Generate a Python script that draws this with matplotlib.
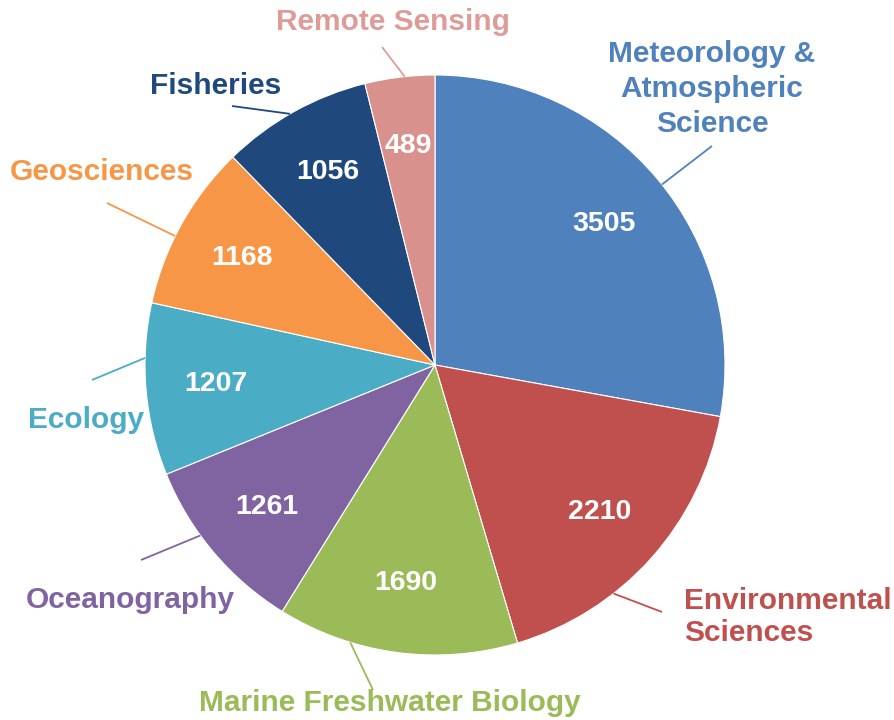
import matplotlib
matplotlib.use("Agg")
import matplotlib.pyplot as plt
import numpy as np

# ---- data ----
categories = ["Meteorology &\nAtmospheric\nScience", "Environmental\nSciences",
              "Marine Freshwater Biology", "Oceanography", "Ecology",
              "Geosciences", "Fisheries", "Remote Sensing"]
values = [3505, 2210, 1690, 1261, 1207, 1168, 1056, 489]
colors = ["#4F81BD", "#C0504D", "#9BBB59", "#8064A2", "#4BACC6",
          "#F79646", "#1F497D", "#D9918E"]
text_colors = ["#4F81BD", "#C0504D", "#9BBB59", "#8064A2", "#4BACC6",
               "#F79646", "#1F497D", "#DE9C99"]

# ---- layout (pixel coords, y down) ----
W, H = 894, 720
cx, cy, R = 435, 365, 290
# label text anchor (x, y, ha, linespacing), leader start angle (deg), leader end point
label_layout = [
    (712, 89, "center", 1.3, 38.5, (712, 146)),
    (684, 617, "left", 1.15, 308, (662, 612)),
    (390, 703, "center", 1.2, 253, (373, 690)),
    (130, 600, "center", 1.2, 216, (141, 560)),
    (86, 420, "center", 1.2, 178.6, (92, 380)),
    (102, 172, "center", 1.2, 153.6, (107, 203)),
    (216, 86, "center", 1.2, 120, (232, 106)),
    (393, 22, "center", 1.2, 96, (382, 47)),
]

plt.rcParams['font.family'] = ['Liberation Sans', 'DejaVu Sans']
fig = plt.figure(figsize=(W / 100, H / 100), dpi=100)
ax = fig.add_axes([0, 0, 1, 1])

def Y(y):
    return H - y

wedges, _, autotexts = ax.pie(
    values, colors=colors, startangle=90, counterclock=False,
    center=(cx, Y(cy)), radius=R, frame=True,
    autopct=lambda p: f"{p * sum(values) / 100:.0f}", pctdistance=0.76,
    wedgeprops=dict(edgecolor="white", linewidth=0.8),
    textprops=dict(color="white", fontsize=20.5, fontweight="bold"))
ax.set_xlim(0, W)
ax.set_ylim(0, H)
ax.set_aspect('equal')
ax.axis('off')

for cat, tc, (tx, ty, ha, ls, ang, end) in zip(categories, text_colors, label_layout):
    a = np.deg2rad(ang)
    sx, sy = cx + R * np.cos(a), Y(cy) + R * np.sin(a)
    ax.plot([sx, end[0]], [sy, Y(end[1])], color=tc, lw=1.3, solid_capstyle='butt')
    ax.text(tx, Y(ty), cat, color=tc, fontsize=21.5, fontweight="bold",
            ha=ha, va="center", multialignment=ha, linespacing=ls)

fig.savefig("out.png", dpi=100, facecolor="white")
